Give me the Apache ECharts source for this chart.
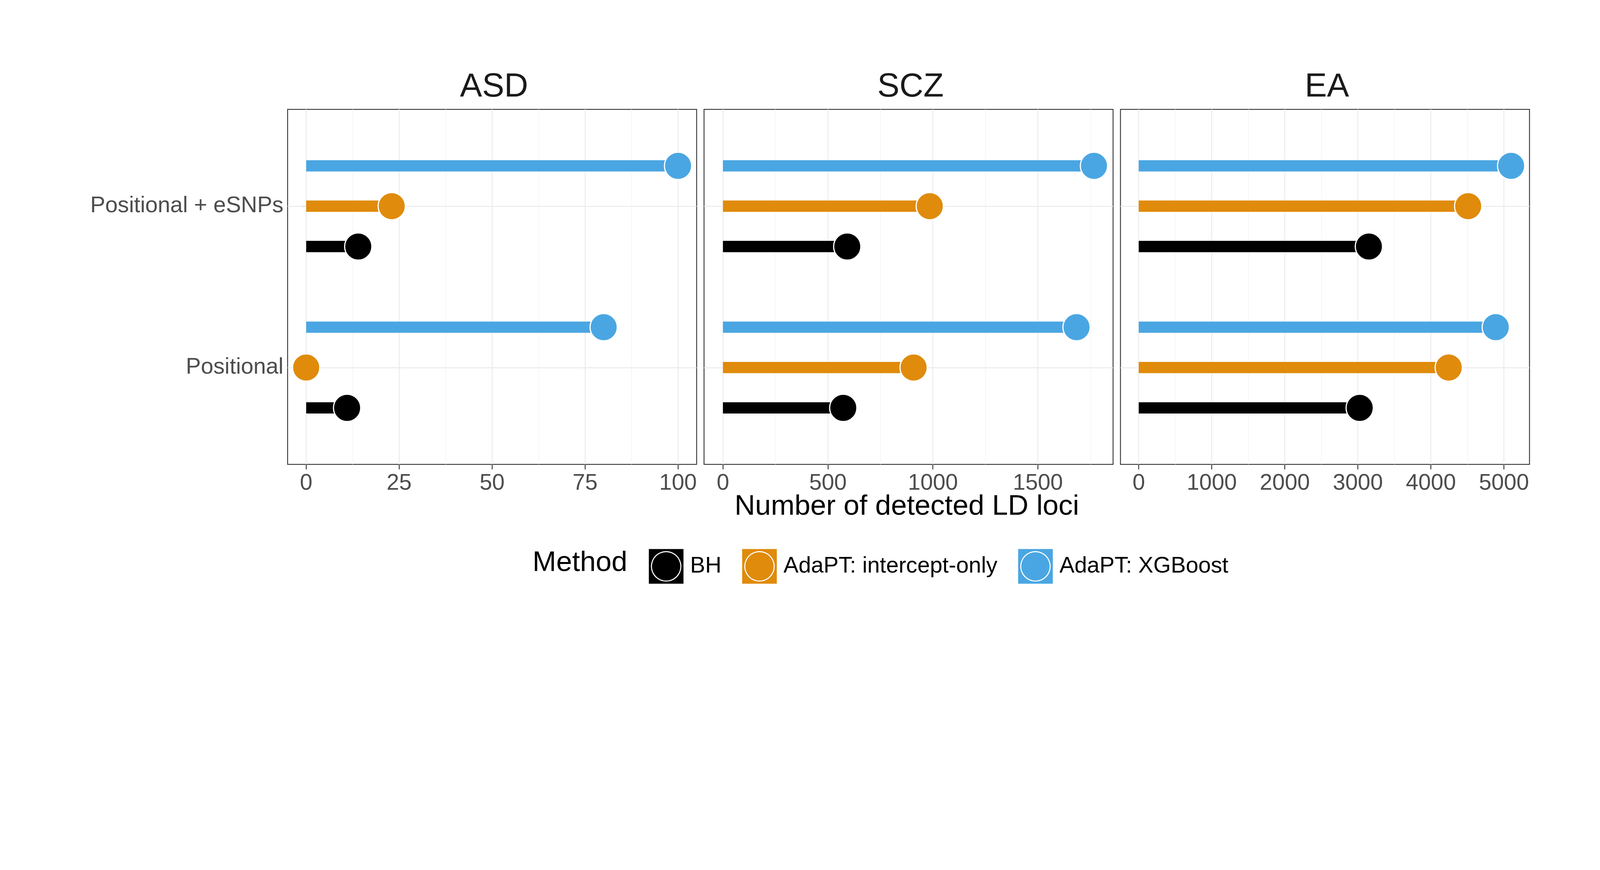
<!DOCTYPE html>
<html>
<head>
<meta charset="utf-8">
<title>LD loci</title>
<script src="https://cdn.jsdelivr.net/npm/echarts@6/dist/echarts.min.js"></script>
</head>
<body style="margin:0;background:#fff;overflow:hidden">
<div id="chart"></div>
<script>
    // categories (y) and panels
    var categories = ['Positional', 'Positional + eSNPs'];
    var panels = ['ASD', 'SCZ', 'EA'];
    var methods = ['BH', 'AdaPT: intercept-only', 'AdaPT: XGBoost'];
    var colors = ['#000000', '#E08B0B', '#4AA6E2'];

    // values per panel, order [Positional, Positional + eSNPs]
    var bhValues = [[11, 14], [573, 592], [3025, 3151]];
    var interceptValues = [[0, 23], [908, 985], [4244, 4510]];
    var xgbValues = [[80, 100], [1684, 1767], [4888, 5098]];

    // x axis ranges and ticks
    var xMin = [-5, -90, -250];
    var xMax = [105, 1858, 5350];
    var xBase = [2.5, 10, 250];
    var xTicks = [[0, 25, 50, 75, 100], [0, 500, 1000, 1500], [0, 1000, 2000, 3000, 4000, 5000]];
    var xMinor = [[12.5, 37.5, 62.5, 87.5], [250, 750, 1250, 1750], [500, 1500, 2500, 3500, 4500]];

    var allValues = [bhValues, interceptValues, xgbValues];
    var dodge = [-0.25, 0, 0.25];

    // layout designed for 5402 px wide; scaled to the real window
    var s = window.innerWidth / 5402;
    function px(v) { return v * s; }
    var el = document.getElementById('chart');
    el.style.width = window.innerWidth + 'px';
    el.style.height = Math.max(window.innerHeight, 2226 * s) + 'px';

    var gridLeft = [971, 2377, 3783];
    var gridW = 1381;
    var font = 'Liberation Sans';

    var grids = [], xAxes = [], yAxes = [], titles = [], series = [];
    panels.forEach(function (p, i) {
        grids.push({left: px(gridLeft[i]), top: px(369), width: px(gridW), height: px(1198),
            show: true, borderColor: '#333333', borderWidth: px(3), backgroundColor: '#fff'});
        titles.push({text: p, left: px(gridLeft[i] + gridW / 2), top: px(232), textAlign: 'center',
            textStyle: {fontSize: px(112), fontWeight: 'normal', color: '#1a1a1a', fontFamily: font}});
        xAxes.push({type: 'value', gridIndex: i, min: xMin[i], max: xMax[i], interval: xBase[i],
            axisLine: {show: false},
            axisTick: {show: true, customValues: xTicks[i], length: px(17), lineStyle: {color: '#333', width: px(3)}},
            axisLabel: {customValues: xTicks[i], fontSize: px(76), color: '#4d4d4d', margin: px(26), fontFamily: font,
                formatter: function (v) { return xTicks[i].indexOf(v) >= 0 ? String(v) : ''; }},
            splitLine: {show: false}
        });
        yAxes.push({type: 'value', gridIndex: i, min: 0.4, max: 2.6,
            axisLine: {show: false},
            axisTick: {show: i === 0, customValues: [1, 2], length: px(17), lineStyle: {color: '#333', width: px(3)}},
            axisLabel: {show: i === 0, customValues: [1, 2], fontSize: px(76), color: '#4d4d4d', margin: px(14), fontFamily: font,
                formatter: function (v) {
                    if (Math.abs(v - 1) < 0.01) return categories[0];
                    if (Math.abs(v - 2) < 0.01) return categories[1];
                    return '';
                }},
            splitLine: {show: false}
        });
        // panel grid lines
        var lines = [];
        xMinor[i].forEach(function (v) { lines.push({xAxis: v, lineStyle: {color: '#f3f3f3', width: px(2), type: 'solid'}}); });
        xTicks[i].forEach(function (v) { lines.push({xAxis: v, lineStyle: {color: '#ebebeb', width: px(3), type: 'solid'}}); });
        [1, 2].forEach(function (v) { lines.push({yAxis: v, lineStyle: {color: '#ebebeb', width: px(3), type: 'solid'}}); });
        series.push({type: 'line', xAxisIndex: i, yAxisIndex: i, data: [], z: 1,
            markLine: {silent: true, symbol: 'none', label: {show: false}, animation: false, data: lines}});
        methods.forEach(function (m, j) {
            var vals = allValues[j][i];
            series.push({
                name: m, type: 'custom', xAxisIndex: i, yAxisIndex: i, z: 5,
                itemStyle: {color: colors[j]},
                data: vals.map(function (v, c) { return [v, c + 1 + dodge[j]]; }),
                renderItem: function (params, api) {
                    var p0 = api.coord([0, api.value(1)]);
                    var p1 = api.coord([api.value(0), api.value(1)]);
                    return {type: 'group', children: [
                        {type: 'line', shape: {x1: p0[0], y1: p0[1], x2: p1[0], y2: p1[1]},
                            style: {stroke: colors[j], lineWidth: px(38)}},
                        {type: 'circle', shape: {cx: p1[0], cy: p1[1], r: px(46)},
                            style: {fill: colors[j], stroke: '#ffffff', lineWidth: px(4)}}
                    ]};
                }
            });
        });
    });

    var keyIcon = 'path://M0 0H100V100H0Z M94 50A44 44 0 1 0 6 50A44 44 0 1 0 94 50Z M91 50A41 41 0 1 1 9 50A41 41 0 1 1 91 50Z';

    var chart = echarts.init(el);
    chart.setOption({
        animation: false,
        backgroundColor: '#ffffff',
        title: titles,
        grid: grids,
        xAxis: xAxes,
        yAxis: yAxes,
        legend: {
            data: methods.map(function (m, j) { return {name: m, icon: keyIcon, itemStyle: {color: colors[j]}}; }),
            left: px(2184), top: px(1846), itemWidth: px(117), itemHeight: px(117), itemGap: px(70),
            textStyle: {fontSize: px(76), color: '#000', fontFamily: font, padding: [0, 0, 0, px(16)]}
        },
        graphic: [
            {type: 'text', left: px(2480), top: px(1662),
                style: {text: 'Number of detected LD loci', fontSize: px(96), fill: '#000', fontFamily: font}},
            {type: 'text', left: px(1798), top: px(1852),
                style: {text: 'Method', fontSize: px(96), fill: '#000', fontFamily: font}}
        ],
        series: series
    });
</script>
</body>
</html>
